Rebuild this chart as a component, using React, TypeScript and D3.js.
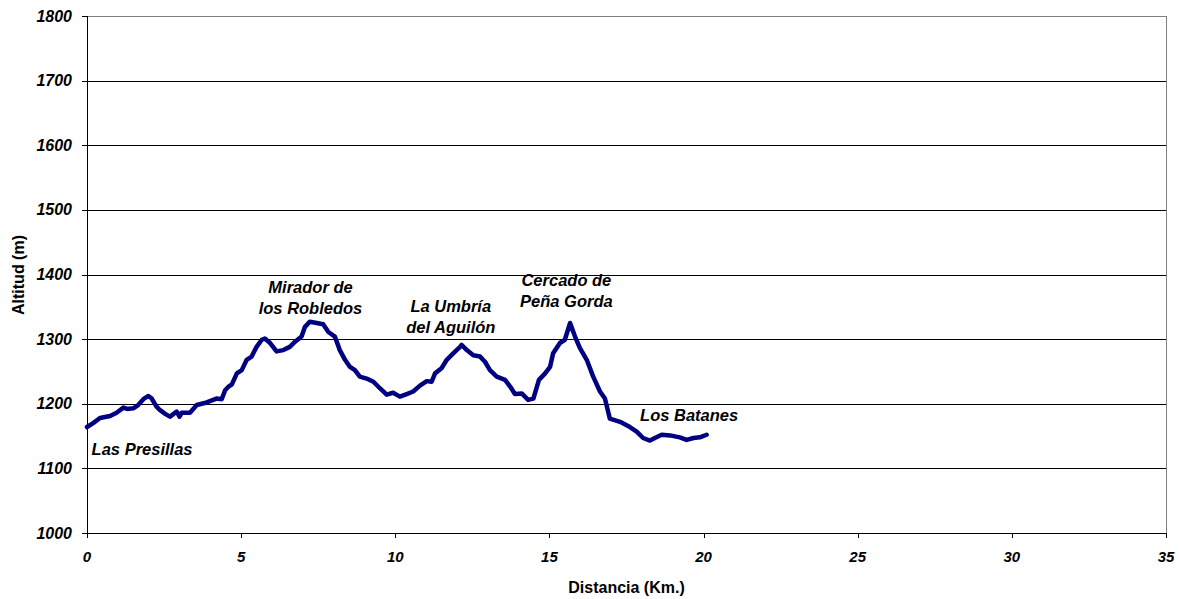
import React from "react";
import * as d3 from "d3";

const distances = [0, 0.2, 0.42, 0.75, 0.96, 1.18, 1.3, 1.5, 1.66, 1.85, 1.99, 2.1, 2.25, 2.37, 2.55, 2.69, 2.8, 2.91, 3.0, 3.07, 3.34, 3.56, 3.88, 4.2, 4.37, 4.48, 4.58, 4.7, 4.86, 5.02, 5.18, 5.34, 5.5, 5.67, 5.77, 5.94, 6.15, 6.37, 6.58, 6.75, 6.96, 7.07, 7.23, 7.45, 7.66, 7.83, 8.04, 8.2, 8.37, 8.53, 8.69, 8.85, 9.07, 9.29, 9.5, 9.72, 9.93, 10.15, 10.37, 10.58, 10.8, 11.02, 11.18, 11.29, 11.5, 11.67, 11.88, 12.1, 12.15, 12.32, 12.53, 12.75, 12.91, 13.07, 13.29, 13.56, 13.72, 13.88, 14.1, 14.31, 14.48, 14.66, 14.86, 15.02, 15.12, 15.34, 15.5, 15.67, 15.83, 15.99, 16.21, 16.42, 16.64, 16.8, 16.96, 17.29, 17.61, 17.83, 18.04, 18.26, 18.42, 18.64, 18.91, 19.23, 19.45, 19.67, 19.88, 20.1];
const altitudes = [1164, 1170, 1178, 1181, 1186, 1194, 1192, 1193, 1198, 1208, 1212, 1208, 1196, 1190, 1184, 1180, 1184, 1188, 1180, 1186, 1186, 1198, 1202, 1208, 1207, 1221, 1226, 1230, 1247, 1252, 1268, 1273, 1288, 1299, 1301, 1294, 1281, 1283, 1288, 1296, 1304, 1319, 1327, 1325, 1323, 1311, 1304, 1283, 1268, 1257, 1252, 1242, 1239, 1234, 1224, 1214, 1217, 1211, 1215, 1219, 1228, 1235, 1234, 1247, 1255, 1268, 1278, 1288, 1291, 1283, 1275, 1273, 1265, 1252, 1242, 1237, 1227, 1215, 1216, 1206, 1208, 1237, 1247, 1257, 1278, 1294, 1299, 1325, 1304, 1286, 1268, 1242, 1219, 1208, 1177, 1172, 1164, 1157, 1147, 1143, 1147, 1152, 1151, 1148, 1144, 1147, 1148, 1152];

const yTicks = [1000, 1100, 1200, 1300, 1400, 1500, 1600, 1700, 1800];
const xTicks = [0, 5, 10, 15, 20, 25, 30, 35];

const annotationLines = [
  ["Las Presillas"],
  ["Mirador de", "los Robledos"],
  ["La Umbría", "del Aguilón"],
  ["Cercado de", "Peña Gorda"],
  ["Los Batanes"],
];
const annotationKm = [0.15, 7.25, 11.8, 15.55, 17.94];
const annotationAlt = [1120, 1372, 1342, 1382, 1174];
const annotationAnchor = ["start", "middle", "middle", "middle", "start"];

const W = 1180;
const H = 599;
const M = { left: 87, right: 1166, top: 16, bottom: 533 };
const FONT = "'Liberation Sans', Arial, sans-serif";

export default function App() {
  const x = d3.scaleLinear().domain([0, 35]).range([M.left, M.right]);
  const y = d3.scaleLinear().domain([1000, 1800]).range([M.bottom, M.top]);
  const pts = distances.map((d, i) => [d, altitudes[i]] as [number, number]);
  const line = d3
    .line<[number, number]>()
    .x((d) => x(d[0]))
    .y((d) => y(d[1]));

  return (
    <svg
      width={W}
      height={H}
      style={{ position: "absolute", left: 0, top: 0, background: "#fff" }}
      fontFamily={FONT}
    >
      <rect x={0} y={0} width={W} height={H} fill="#fff" />
      {yTicks.map((t) => {
        const yy = Math.round(y(t)) + 0.5;
        return (
          <g key={"y" + t}>
            <line
              x1={M.left}
              x2={M.right}
              y1={yy}
              y2={yy}
              stroke={t === 1800 ? "#808080" : "#000"}
              strokeWidth={1}
            />
            <line x1={M.left - 5} x2={M.left} y1={yy} y2={yy} stroke="#000" />
            <text
              x={72}
              y={y(t)}
              dy="0.35em"
              textAnchor="end"
              fontSize={16}
              fontWeight="bold"
              fontStyle="italic"
            >
              {t}
            </text>
          </g>
        );
      })}
      <line x1={M.right + 0.5} x2={M.right + 0.5} y1={M.top} y2={M.bottom} stroke="#808080" />
      <line x1={M.left + 0.5} x2={M.left + 0.5} y1={M.top} y2={M.bottom + 0.5} stroke="#000" />
      {xTicks.map((t) => {
        const xx = Math.round(x(t)) + 0.5;
        return (
          <g key={"x" + t}>
            <line x1={xx} x2={xx} y1={M.bottom} y2={M.bottom + 5} stroke="#000" />
            <text
              x={x(t)}
              y={562}
              textAnchor="middle"
              fontSize={15}
              fontWeight="bold"
              fontStyle="italic"
            >
              {t}
            </text>
          </g>
        );
      })}
      <path
        d={line(pts) || ""}
        fill="none"
        stroke="#000080"
        strokeWidth={4.5}
        strokeLinejoin="round"
        strokeLinecap="round"
      />
      {annotationLines.map((lines, i) => (
        <text
          key={"a" + i}
          x={x(annotationKm[i])}
          y={y(annotationAlt[i])}
          textAnchor={annotationAnchor[i]}
          fontSize={16.5}
          fontWeight="bold"
          fontStyle="italic"
        >
          {lines.map((l, j) => (
            <tspan key={j} x={x(annotationKm[i])} dy={j === 0 ? 0 : 21}>
              {l}
            </tspan>
          ))}
        </text>
      ))}
      <text
        x={(M.left + M.right) / 2}
        y={593}
        textAnchor="middle"
        fontSize={16}
        fontWeight="bold"
      >
        Distancia (Km.)
      </text>
      <text
        transform={`translate(24, ${275}) rotate(-90)`}
        textAnchor="middle"
        fontSize={16}
        fontWeight="bold"
      >
        Altitud (m)
      </text>
    </svg>
  );
}
